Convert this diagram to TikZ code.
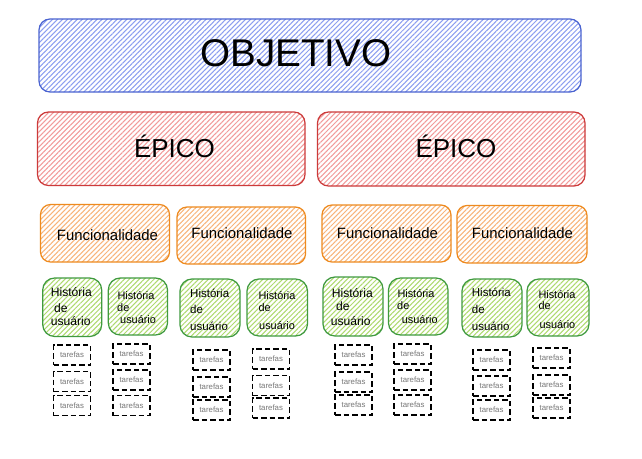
\documentclass[tikz,border=0pt]{standalone}
\usepackage{fontspec}
\setmainfont{Liberation Sans}
\usetikzlibrary{patterns.meta}
\definecolor{bstroke}{HTML}{4A63D0}
\definecolor{bhatch}{HTML}{8C9EF0}
\definecolor{rstroke}{HTML}{CC3A3A}
\definecolor{rhatch}{HTML}{F29A9A}
\definecolor{ostroke}{HTML}{EE8A1E}
\definecolor{ohatch}{HTML}{F8B47A}
\definecolor{gstroke}{HTML}{3F9A3F}
\definecolor{ghatch}{HTML}{AEDA6E}
\definecolor{tgray}{HTML}{777777}
\tikzset{
  boxbase/.style={draw, line width=1.25pt, inner sep=0pt, outer sep=0pt},
  hatch/.style={pattern={Lines[angle=45,distance=3.5pt,line width=1.05pt]}, pattern color=#1},
  objbox/.style={boxbase, rounded corners=11pt, draw=bstroke, hatch=bhatch},
  epicbox/.style={boxbase, rounded corners=11pt, draw=rstroke, hatch=rhatch},
  funcbox/.style={boxbase, rounded corners=10pt, draw=ostroke, hatch=ohatch},
  storybox/.style={boxbase, rounded corners=12pt, draw=gstroke, hatch=ghatch},
  taskbox/.style={draw=black, line width=1.25pt, dash pattern=on 5.5pt off 3pt,
     minimum width=37pt, minimum height=20pt, inner sep=0pt,
     text=tgray, font=\fontsize{7.8}{9}\selectfont},
  lbl/.style={inner sep=0pt, anchor=base west},
}
\begin{document}
\begin{tikzpicture}[x=1pt,y=-1pt]
\path[fill=white] (0,0) rectangle (642,458);
\useasboundingbox (0,0) rectangle (642,458);

% Objetivo
\node[objbox, minimum width=542pt, minimum height=73pt] (obj) at (310,55.5) {};
\node[inner sep=0pt, anchor=base, font=\fontsize{38.6}{40}\selectfont] (objt) at (296,66.7) {OBJETIVO};

% Epicos
\node[epicbox, minimum width=267.5pt, minimum height=73.5pt] (ep1) at (171.25,148.75) {};
\node[epicbox, minimum width=267.5pt, minimum height=74pt] (ep2) at (451.25,149) {};
\node[inner sep=0pt, anchor=base, font=\fontsize{26}{28}\selectfont] (ep1t) at (174.5,157.8) {ÉPICO};
\node[inner sep=0pt, anchor=base, font=\fontsize{26}{28}\selectfont] (ep2t) at (456,157.8) {ÉPICO};

% Funcionalidades
\foreach \n/\cx/\cy/\w/\h/\tx/\ty in {
  f1/105/233.25/129/57.5/107.5/240,
  f2/241.25/235.5/128.5/57/242/238.5,
  f3/386.5/233.5/129/57/387.5/238.3,
  f4/522/234.25/130/57.5/522.5/238.3}{
  \node[funcbox, minimum width=\w pt, minimum height=\h pt] (\n) at (\cx,\cy) {};
  \node[inner sep=0pt, anchor=base, font=\fontsize{14.9}{16}\selectfont] (\n t) at (\tx,\ty) {Funcionalidade};
}

% Historias de usuario
\foreach \n/\cx/\cy/\w/\h in {
  h1/72.2/307.25/59/58.5, h2/137.9/306.5/59.2/57,
  h3/210/308/60/58,       h4/277.25/307.5/60.5/57,
  h5/353/306.5/60/59,     h6/418.25/306.5/59.5/57,
  h7/492/308/60/58,       h8/558/307.5/62/57}{
  \node[storybox, minimum width=\w pt, minimum height=\h pt] (\n) at (\cx,\cy) {};
}
\foreach \n/\xa/\ya/\xb/\yb/\xc/\yc/\fs in {
  h1/50.7/296.7/54/312.3/50.7/325/12.1,
  h2/117.3/299/117/311/120/323.3/10.9,
  h3/190/297.3/190/313.3/190/330.7/11.5,
  h4/258.3/299/258.3/311.7/259/329.3/10.9,
  h5/331.7/297.3/336/310.7/330.7/325/12.1,
  h6/397.3/297.3/397/309/401.7/323.3/10.9,
  h7/471.7/296/471.7/313.3/471.7/330.7/11.5,
  h8/538.3/298.3/538.3/309.3/539.3/328.3/10.9}{
  \node[lbl, font=\fontsize{\fs}{\fs}\selectfont] (\n a) at (\xa,\ya) {História};
  \node[lbl, font=\fontsize{\fs}{\fs}\selectfont] (\n b) at (\xb,\yb) {de};
  \node[lbl, font=\fontsize{\fs}{\fs}\selectfont] (\n c) at (\xc,\yc) {usuário};
}

% Tarefas
\foreach \c/\cx/\ra/\rb/\rc in {
  1/72/355/381.5/405.5,
  2/131.5/354/380/405.5,
  3/211.5/360/387/410,
  4/271/359/385.5/408,
  5/353.5/355/382/405,
  6/412.5/354/380/405,
  7/491.5/360/386/410,
  8/551.5/358/385/408}{
  \node[taskbox] (t\c-1) at (\cx,\ra) {tarefas};
  \node[taskbox] (t\c-2) at (\cx,\rb) {tarefas};
  \node[taskbox] (t\c-3) at (\cx,\rc) {tarefas};
}
\end{tikzpicture}
\end{document}
